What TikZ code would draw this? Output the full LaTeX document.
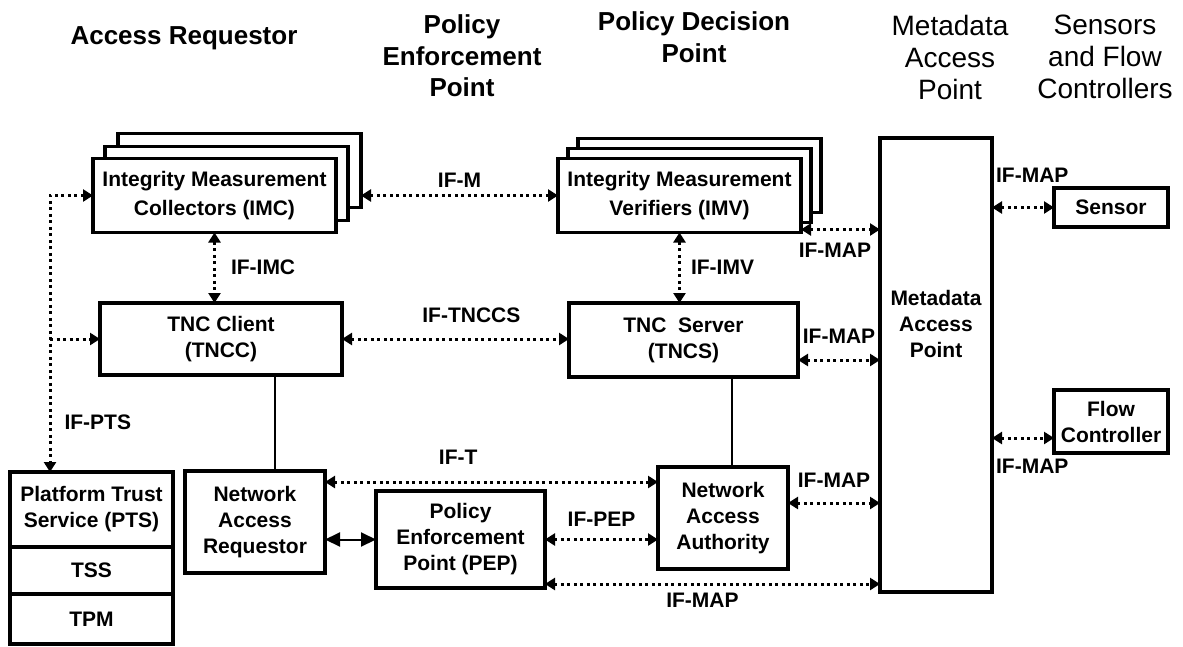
\documentclass[tikz,border=0pt]{standalone}
\usepackage{fontspec}
\setmainfont{Liberation Sans}
\usetikzlibrary{arrows.meta, positioning}

\tikzset{
    box/.style={draw, line width=3.5pt, fill=white, outer sep=0pt, inner sep=0pt, align=center,
        font=\fontsize{21}{26}\selectfont\bfseries},
    stack/.style={box, minimum width=243pt, minimum height=74pt,
        font=\fontsize{21}{29}\selectfont\bfseries},
    head/.style={align=center, font=\fontsize{26}{31.5}\selectfont\bfseries},
    thinhead/.style={align=center, font=\fontsize{28}{32}\selectfont},
    ifline/.style={line width=3pt, dash pattern=on 3pt off 3.5pt},
    iflabel/.style={font=\fontsize{21}{26}\selectfont\bfseries, inner sep=2pt},
    link/.style={line width=1.5pt},
}

\begin{document}
\begin{tikzpicture}[x=1pt, y=-1pt, >={Triangle[length=10pt, width=12pt]}]
    \useasboundingbox (0,0) rectangle (1183,646);

    \node[head] (arhead) at (184,38) {Access Requestor};
    \node[head] (pephead) at (462,56) {Policy\\Enforcement\\Point};
    \node[head] (pdphead) at (694,37) {Policy Decision\\Point};
    \node[thinhead] (maphead) at (950,57) {Metadata\\Access\\Point};
    \node[thinhead] (sfchead) at (1105,57) {Sensors\\and Flow\\Controllers};

    \coordinate (imcpos) at (214.5,195.5);
    \node[stack] (imcC) at ([shift={(25,-25)}]imcpos) {};
    \node[stack] (imcB) at ([shift={(12,-12)}]imcpos) {};
    \node[stack] (imc) at (imcpos) {Integrity Measurement\\Collectors (IMC)};

    \coordinate (imvpos) at (679.5,195.5);
    \node[stack] (imvC) at ([shift={(20,-20)}]imvpos) {};
    \node[stack] (imvB) at ([shift={(10,-10)}]imvpos) {};
    \node[stack] (imv) at (imvpos) {Integrity Measurement\\Verifiers (IMV)};

    \node[box, minimum width=242pt, minimum height=72pt] (tncc) at (221,339) {TNC Client\\(TNCC)};
    \node[box, minimum width=229pt, minimum height=74pt] (tncs) at (683.5,340) {TNC\ \ Server\\(TNCS)};

    \node[box, minimum width=112pt, minimum height=454pt] (map) at (936,365) {};
    \node[font=\fontsize{21}{26}\selectfont\bfseries, align=center] (maptext) at (936,324) {Metadata\\Access\\Point};

    \node[box, minimum width=114pt, minimum height=39pt] (sensor) at (1111,207.5) {Sensor};
    \node[box, minimum width=114pt, minimum height=63pt] (flow) at (1111,421.5) {Flow\\Controller};

    \node[box, minimum width=163pt, minimum height=75pt] (pts) at (91.5,509.5) {Platform Trust\\Service (PTS)};
    \node[box, minimum width=163pt, minimum height=47pt, below=0pt of pts] (tss) {TSS};
    \node[box, minimum width=163pt, minimum height=50pt, below=0pt of tss] (tpm) {TPM};

    \node[box, minimum width=140pt, minimum height=102pt] (nar) at (255,522) {Network\\Access\\Requestor};
    \node[box, minimum width=169pt, minimum height=97pt] (pep) at (460.5,539.5) {Policy\\Enforcement\\Point (PEP)};
    \node[box, minimum width=130pt, minimum height=102pt] (naa) at (723,518) {Network\\Access\\Authority};

    \coordinate (ptsbus) at ([xshift=-41.5pt]pts.north);

    \draw[ifline, <->] (imc.west) -| (ptsbus) node[iflabel, pos=0.91, right=11pt] {IF-PTS};
    \draw[ifline, ->] (ptsbus |- tncc.west) -- (tncc.west);
    \draw[ifline, <->] (imcC.east |- imv.west) -- (imv.west) node[iflabel, midway, above=5pt] {IF-M};
    \draw[ifline, <->] (imc.south) -- (imc.south |- tncc.north) node[iflabel, midway, right=13pt] {IF-IMC};
    \draw[ifline, <->] (imv.south) -- (imv.south |- tncs.north) node[iflabel, midway, right=8pt] {IF-IMV};
    \draw[ifline, <->] (tncc.east) -- (tncc.east -| tncs.west) node[iflabel, pos=0.57, above=13pt] {IF-TNCCS};

    \draw[ifline, <->] ([yshift=3pt]imv.south east) -- ([yshift=3pt]imv.south east -| map.west) node[iflabel, pos=0.43, below=10pt] {IF-MAP};
    \draw[ifline, <->] ([yshift=-20pt]tncs.east) -- ([yshift=-20pt]tncs.east -| map.west) node[iflabel, midway, above=13pt] {IF-MAP};
    \draw[ifline, <->] ([yshift=15pt]naa.east) -- ([yshift=15pt]naa.east -| map.west) node[iflabel, midway, above=12.5pt] {IF-MAP};
    \draw[ifline, <->] ([yshift=4pt]pep.south east) -- ([yshift=4pt]pep.south east -| map.west) node[iflabel, pos=0.47, below=6pt] {IF-MAP};
    \draw[ifline, <->] (map.east |- sensor.west) -- (sensor.west) node[iflabel, pos=0.65, above=22pt] {IF-MAP};
    \draw[ifline, <->] ([yshift=-16.5pt]flow.west -| map.east) -- ([yshift=-16.5pt]flow.west) node[iflabel, pos=0.65, below=18pt] {IF-MAP};

    \draw[ifline, <->] ([yshift=40pt]nar.east) -- ([yshift=40pt]nar.east -| naa.west) node[iflabel, pos=0.4, above=14.5pt] {IF-T};
    \draw[ifline, <->] (pep.east) -- (pep.east -| naa.west) node[iflabel, midway, above=10pt] {IF-PEP};
    \draw[line width=2pt, {Triangle[length=15pt, width=14pt]}-{Triangle[length=15pt, width=14pt]}] (nar.east |- pep.west) -- (pep.west);
    \draw[link] ([xshift=20pt]nar.north) -- ([xshift=20pt]nar.north |- tncc.south);
    \draw[link] ([xshift=9pt]naa.north) -- ([xshift=9pt]naa.north |- tncs.south);
\end{tikzpicture}
\end{document}
